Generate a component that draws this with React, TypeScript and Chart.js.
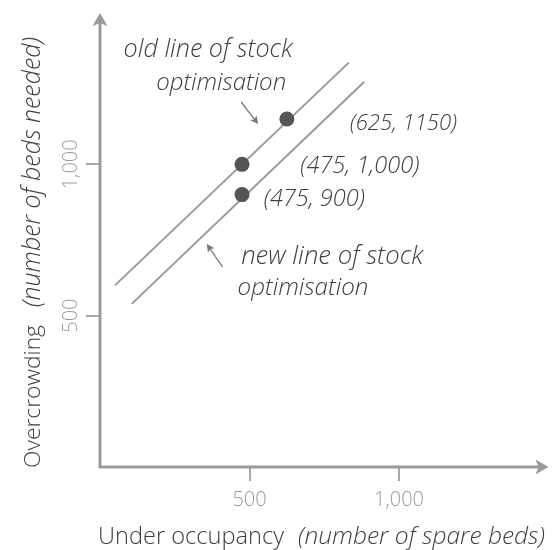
import React, { useEffect, useRef } from "react";
import { Chart, registerables } from "chart.js";

Chart.register(...registerables);

// ---- data ----
const axisMax = 1500;
const xTicks = [500, 1000];
const yTicks = [500, 1000];
const oldLine = [
  { x: 50, y: 600 },
  { x: 832, y: 1336 },
];
const newLine = [
  { x: 106, y: 539 },
  { x: 884, y: 1273 },
];
const points = [
  { x: 475, y: 1000 },
  { x: 625, y: 1150 },
  { x: 475, y: 900 },
];
const xTitleMain = "Under occupancy";
const xTitleNote = "(number of spare beds)";
const yTitleMain = "Overcrowding";
const yTitleNote = "(number of beds needed)";
const noteTexts = [
  "old line of stock",
  "optimisation",
  "(625, 1150)",
  "(475, 1,000)",
  "(475, 900)",
  "new line of stock",
  "optimisation",
];

// ---- annotation layout (in data units, placed through the scales) ----
const noteAnchorX = [79, 188, 836, 670, 548, 472, 460];
const noteAnchorY = [1355, 1246, 1113, 971, 861, 671, 569];
const noteWidth = [169, 130, 107, 119, 101, 182, 131];
const arrowFrom = [
  { x: 472, y: 1206 },
  { x: 410, y: 661 },
];
const arrowTo = [
  { x: 529, y: 1133 },
  { x: 357, y: 737 },
];

const FONT = '"Open Sans", "Lato", sans-serif';
const AXIS = "#9a9a9b";
const TEXT = "#3e3e3e";
const TICKTEXT = "#9a9a9a";

const fmt = (v: number) => v.toLocaleString("en-US");

function fitFont(ctx: CanvasRenderingContext2D, text: string, style: string, target: number) {
  ctx.font = `${style} 24px ${FONT}`;
  const w = ctx.measureText(text).width;
  const size = (24 * target) / w;
  ctx.font = `${style} ${size.toFixed(2)}px ${FONT}`;
}

function arrowHead(ctx: CanvasRenderingContext2D, tx: number, ty: number, ang: number, len: number, half: number, notch: number) {
  ctx.save();
  ctx.translate(tx, ty);
  ctx.rotate(ang);
  ctx.beginPath();
  ctx.moveTo(0, 0);
  ctx.lineTo(-len, -half);
  ctx.lineTo(-len + notch, 0);
  ctx.lineTo(-len, half);
  ctx.closePath();
  ctx.fill();
  ctx.restore();
}

const overlay = {
  id: "overlay",
  afterDraw(chart: any) {
    const { ctx, chartArea } = chart;
    const x = chart.scales.x;
    const y = chart.scales.y;
    const x0 = x.getPixelForValue(0);
    const y0 = y.getPixelForValue(0);
    const xEnd = x.getPixelForValue(axisMax);
    const yEnd = y.getPixelForValue(axisMax);
    ctx.save();

    // axes with arrowheads
    ctx.strokeStyle = AXIS;
    ctx.fillStyle = AXIS;
    ctx.lineWidth = 3;
    ctx.beginPath();
    ctx.moveTo(x0, y0 + 1.5);
    ctx.lineTo(x0, yEnd + 8);
    ctx.moveTo(x0 - 1.5, y0);
    ctx.lineTo(xEnd - 8, y0);
    ctx.stroke();
    arrowHead(ctx, x0, yEnd, -Math.PI / 2, 13, 7.5, 3);
    arrowHead(ctx, xEnd, y0, 0, 13, 7.5, 3);

    // y tick labels (rotated)
    ctx.fillStyle = TICKTEXT;
    ctx.font = `300 20px ${FONT}`;
    ctx.textAlign = "center";
    ctx.textBaseline = "alphabetic";
    y.ticks.forEach((t: any) => {
      const py = y.getPixelForValue(t.value);
      ctx.save();
      ctx.translate(x0 - 23, py);
      ctx.rotate(-Math.PI / 2);
      ctx.fillText(fmt(t.value), 0, 0);
      ctx.restore();
    });

    // axis titles
    ctx.fillStyle = TEXT;
    ctx.textAlign = "left";
    ctx.textBaseline = "alphabetic";
    // x title
    const xtY = chartArea.bottom + 77;
    fitFont(ctx, xTitleMain, "300", 186);
    ctx.fillText(xTitleMain, chartArea.left - 2, xtY);
    fitFont(ctx, xTitleNote, "italic 300", 247);
    ctx.fillText(xTitleNote, chartArea.left + 198, xtY);
    // y title
    ctx.save();
    ctx.translate(chartArea.left - 60.5, chartArea.bottom + 1);
    ctx.rotate(-Math.PI / 2);
    fitFont(ctx, yTitleMain, "300", 143);
    ctx.fillText(yTitleMain, 0, 0);
    fitFont(ctx, yTitleNote, "italic 300", 270);
    ctx.fillText(yTitleNote, 161, 0);
    ctx.restore();

    // annotations
    noteTexts.forEach((s, i) => {
      fitFont(ctx, s, "italic 300", noteWidth[i]);
      ctx.fillText(s, x.getPixelForValue(noteAnchorX[i]), y.getPixelForValue(noteAnchorY[i]));
    });

    // small pointer arrows
    ctx.strokeStyle = "#7a7a7a";
    ctx.fillStyle = "#7a7a7a";
    ctx.lineWidth = 1.3;
    arrowFrom.forEach((f, i) => {
      const t = arrowTo[i];
      const fx = x.getPixelForValue(f.x);
      const fy = y.getPixelForValue(f.y);
      const tx = x.getPixelForValue(t.x);
      const ty = y.getPixelForValue(t.y);
      const ang = Math.atan2(ty - fy, tx - fx);
      ctx.beginPath();
      ctx.moveTo(fx, fy);
      ctx.lineTo(tx - Math.cos(ang) * 5, ty - Math.sin(ang) * 5);
      ctx.stroke();
      arrowHead(ctx, tx, ty, ang, 8, 4, 2);
    });

    ctx.restore();
  },
};

export default function App() {
  const ref = useRef<HTMLCanvasElement | null>(null);
  useEffect(() => {
    if (!ref.current) return;
    const chart = new Chart(ref.current, {
      type: "scatter",
      data: {
        datasets: [
          {
            label: "points",
            data: points,
            pointRadius: 7.5,
            pointHoverRadius: 7.5,
            pointBorderWidth: 0,
            backgroundColor: "#555556",
            borderColor: "#555556",
            showLine: false,
          },
          {
            label: "old line",
            data: oldLine,
            showLine: true,
            borderColor: "#9a9a9b",
            borderWidth: 2,
            pointRadius: 0,
          },
          {
            label: "new line",
            data: newLine,
            showLine: true,
            borderColor: "#9a9a9b",
            borderWidth: 2,
            pointRadius: 0,
          },
        ],
      },
      options: {
        responsive: false,
        animation: false,
        events: [],
        layout: { padding: { top: 13, right: 2, left: 0, bottom: 0 } },
        plugins: {
          legend: { display: false },
          tooltip: { enabled: false },
        },
        scales: {
          x: {
            type: "linear",
            min: 0,
            max: axisMax,
            afterBuildTicks: (s: any) => {
              s.ticks = xTicks.map((v) => ({ value: v }));
            },
            afterFit: (s: any) => {
              s.height = 83;
            },
            border: { display: false },
            grid: {
              drawOnChartArea: false,
              drawTicks: true,
              tickLength: 14,
              color: "#a8a8a8",
              lineWidth: 2,
            },
            ticks: {
              color: TICKTEXT,
              font: { family: FONT, size: 20, weight: "300" as any },
              padding: 7,
              maxRotation: 0,
              minRotation: 0,
              callback: (v: any) => fmt(Number(v)),
            },
          },
          y: {
            type: "linear",
            min: 0,
            max: axisMax,
            afterBuildTicks: (s: any) => {
              s.ticks = yTicks.map((v) => ({ value: v }));
            },
            afterFit: (s: any) => {
              s.width = 100;
            },
            border: { display: false },
            grid: {
              drawOnChartArea: false,
              drawTicks: true,
              tickLength: 14,
              color: "#a8a8a8",
              lineWidth: 2,
            },
            ticks: { display: false },
          },
        },
      },
      plugins: [overlay],
    });
    return () => chart.destroy();
  }, []);
  return (
    <div style={{ position: "absolute", left: 0, top: 0, width: 556, height: 550, background: "#fff" }}>
      <canvas ref={ref} width={556} height={550} style={{ display: "block" }} />
    </div>
  );
}
